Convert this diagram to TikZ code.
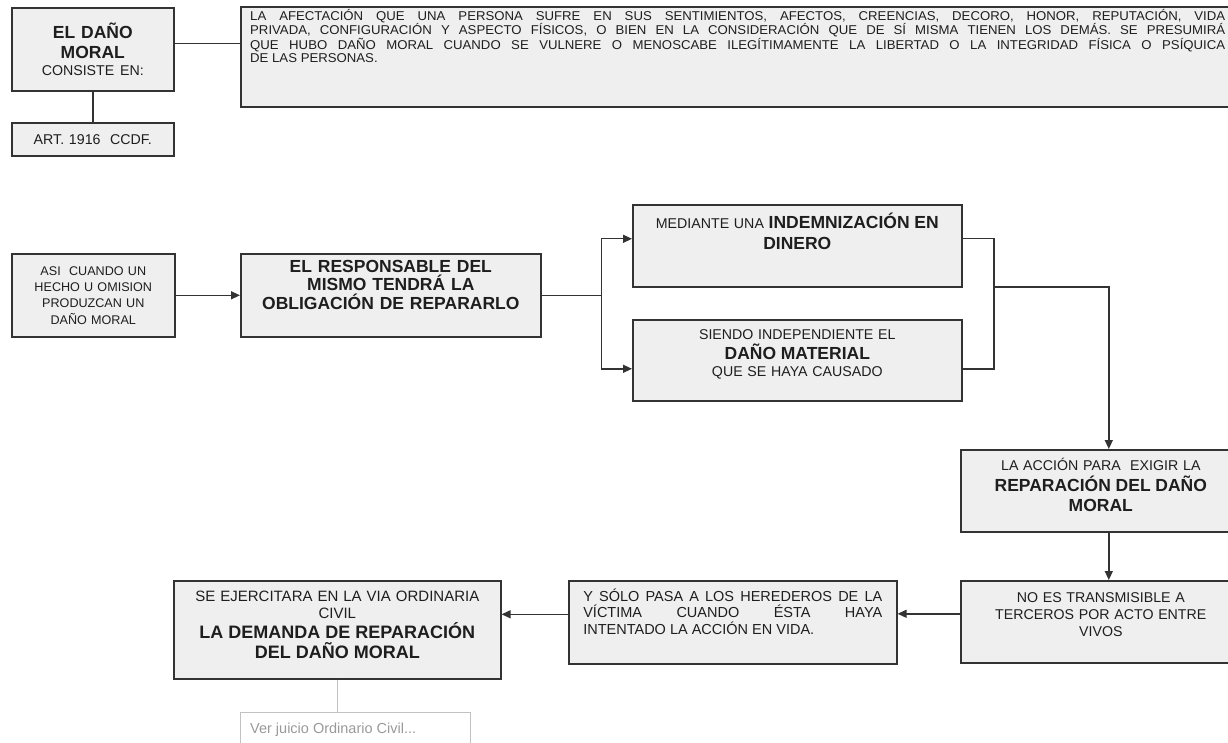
\documentclass[tikz,border=0pt]{standalone}
\usepackage{fontspec}
\setmainfont{Liberation Sans}
\newfontfamily\anchafont[FakeStretch=1.03]{Liberation Sans}
\usetikzlibrary{arrows.meta, positioning}

\definecolor{fondocaja}{HTML}{EFEFEF}
\definecolor{bordecaja}{HTML}{333333}
\definecolor{textocaja}{HTML}{1E1E1E}
\definecolor{bordegris}{HTML}{C2C2C2}
\definecolor{textogris}{HTML}{9A9A9A}

\newcommand{\letranormal}{\fontsize{14.2}{17}\selectfont\mdseries}
\newcommand{\letragruesa}{\fontsize{17.5}{20.5}\selectfont\bfseries}

\begin{document}
\begin{tikzpicture}[x=1pt, y=-1pt, >={Triangle[length=9pt, width=8pt]},
    caja/.style={draw=bordecaja, fill=fondocaja, line width=1.6pt, rectangle, inner sep=0pt, anchor=north west, text=textocaja, align=center},
    cajagris/.style={draw=bordegris, fill=white, line width=1pt, rectangle, inner sep=0pt, anchor=north west},
    texto/.style={inner sep=0pt, text=textocaja},
    flecha/.style={->, line width=1.4pt, draw=bordecaja},
    linea/.style={line width=1.4pt, draw=bordecaja}]

    \useasboundingbox (0,0) rectangle (1228,743);
    \clip (0,0) rectangle (1228,743);

    % Definicion
    \node[caja, text width=162pt, minimum height=83pt, font=\letragruesa] (dano) at (11,7) {EL DAÑO\\MORAL\par\letranormal CONSISTE EN:\par};
    \node[caja, text width=162pt, minimum height=33pt, font=\letranormal] (art) at (11,122) {ART. 1916~~CCDF.};
    \node[caja, minimum width=1000pt, minimum height=100pt] (def) at (240,6) {};
    \node[texto, anchor=north west, text width=975pt, align=justify, font=\anchafont\fontsize{12.8}{13.5}\selectfont] (def-txt) at (250,9) {LA AFECTACIÓN QUE UNA PERSONA SUFRE EN SUS SENTIMIENTOS, AFECTOS, CREENCIAS, DECORO, HONOR, REPUTACIÓN, VIDA\linebreak PRIVADA, CONFIGURACIÓN Y ASPECTO FÍSICOS, O BIEN EN LA CONSIDERACIÓN QUE DE SÍ MISMA TIENEN LOS DEMÁS. SE PRESUMIRÁ\linebreak QUE HUBO DAÑO MORAL CUANDO SE VULNERE O MENOSCABE ILEGÍTIMAMENTE LA LIBERTAD O LA INTEGRIDAD FÍSICA O PSÍQUICA\linebreak DE LAS PERSONAS.\par};

    % Obligacion de reparar
    \node[caja, text width=163pt, minimum height=83pt, font=\fontsize{12.6}{16.3}\selectfont] (asi) at (11,253) {ASI~~CUANDO UN\\HECHO U OMISION\\PRODUZCAN UN\\DAÑO MORAL};
    \node[caja, minimum width=300pt, minimum height=83pt] (resp) at (240,253) {};
    \node[texto, below=7pt of resp.north, text width=300pt, align=center, font=\fontsize{17.5}{18.5}\selectfont\bfseries] (resp-txt) {EL RESPONSABLE DEL\\MISMO TENDRÁ LA\\OBLIGACIÓN DE REPARARLO};
    \node[caja, minimum width=329pt, minimum height=82pt] (mediante) at (632,204) {};
    \node[texto, below=9pt of mediante.north, text width=329pt, align=center, font=\letranormal] (mediante-txt) {MEDIANTE UNA {\letragruesa INDEMNIZACIÓN EN\\DINERO\par}};
    \node[caja, minimum width=329pt, minimum height=81pt] (siendo) at (632,319) {};
    \node[texto, below=10pt of siendo.north, text width=329pt, align=center, font=\letranormal] (siendo-txt) {SIENDO INDEPENDIENTE EL\par{\letragruesa DAÑO MATERIAL\par}QUE SE HAYA CAUSADO\par};

    % Accion de reparacion
    \node[caja, minimum width=280pt, minimum height=82pt] (accion) at (960,449) {};
    \node[texto, below=9pt of accion.north, text width=280pt, align=center, font=\letranormal] (accion-txt) {LA ACCIÓN PARA~~EXIGIR LA\par{\letragruesa REPARACIÓN DEL DAÑO\\MORAL\par}};
    \node[caja, minimum width=280pt, minimum height=82pt] (noes) at (960,580) {};
    \node[texto, below=12pt of noes.north, text width=280pt, align=center, font=\letranormal] (noes-txt) {NO ES TRANSMISIBLE A\\TERCEROS POR ACTO ENTRE\\VIVOS};
    \node[caja, minimum width=328pt, minimum height=83pt] (ysolo) at (568,580) {};
    \node[texto, below=8.5pt of ysolo.north, text width=299pt, align=justify, font=\fontsize{14.5}{16.5}\selectfont] (ysolo-txt) {Y SÓLO PASA A LOS HEREDEROS DE LA\linebreak VÍCTIMA CUANDO ÉSTA HAYA\linebreak INTENTADO LA ACCIÓN EN VIDA.\par};
    \node[caja, minimum width=327pt, minimum height=98pt] (se) at (173,580) {};
    \node[texto, below=11pt of se.north, text width=327pt, align=center, font=\fontsize{15}{16.5}\selectfont] (se-txt) {SE EJERCITARA EN LA VIA ORDINARIA\\CIVIL\par{\fontsize{18}{20}\selectfont\bfseries LA DEMANDA DE REPARACIÓN\\DEL DAÑO MORAL\par}};
    \node[cajagris, minimum width=230pt, minimum height=50pt] (ver) at (240,712) {};
    \node[anchor=west, inner sep=0pt, text=textogris, font=\fontsize{14.5}{17}\selectfont] (ver-txt) at (250,730) {Ver juicio Ordinario Civil...};

    % Conexiones
    \coordinate[right=60pt of resp.east] (split);
    \coordinate (join) at (994,287);
    \draw[linea] ([yshift=6pt]dano.east) -- ([yshift=6pt]dano.east -| def.west);
    \draw[linea] (dano.south) -- (art.north);
    \draw[flecha] (asi.east) -- (resp.west);
    \draw[linea] (resp.east) -- (split);
    \draw[flecha] (split) |- ([yshift=7pt]mediante.west);
    \draw[flecha] (split) |- ([yshift=-8.5pt]siendo.west);
    \draw[linea] ([yshift=7pt]mediante.east) -| (join) |- ([yshift=-8.5pt]siendo.east);
    \draw[flecha] (join) -| ([xshift=8pt]accion.north);
    \draw[flecha] ([xshift=8pt]accion.south) -- ([xshift=8pt]noes.north);
    \draw[flecha] ([yshift=8pt]noes.west) -- ([yshift=8pt]noes.west -| ysolo.east);
    \draw[flecha] ([yshift=8pt]ysolo.west) -- ([yshift=8pt]ysolo.west -| se.east);
    \draw[bordegris, line width=1pt] (se.south) -- (se.south |- ver.north);
\end{tikzpicture}
\end{document}
